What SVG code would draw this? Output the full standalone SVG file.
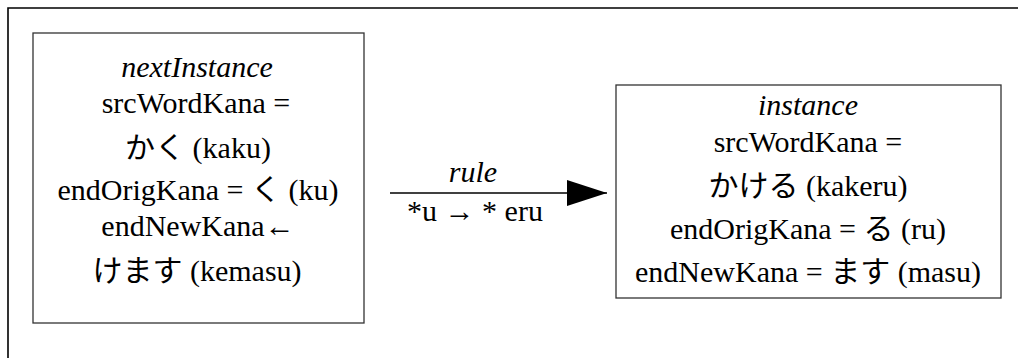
<svg xmlns="http://www.w3.org/2000/svg" width="1018" height="358" viewBox="0 0 1018 358">
  <style>
    .box { fill: #ffffff; stroke: #333333; stroke-width: 1.3; }
    .conn { stroke: #000000; stroke-width: 1.3; fill: none; }
  </style>
  <defs>
    <marker id="arrowhead" markerUnits="userSpaceOnUse" markerWidth="42" markerHeight="28" refX="40" refY="13" orient="auto">
      <polygon points="0,0 40,13 0,26" fill="#000000"/>
    </marker>
  </defs>
  <rect width="1018" height="358" fill="#ffffff"/>

  <!-- outer frame: only top and left edges fall inside the canvas -->
  <path d="M8,358 V8 H1018" fill="none" stroke="#000000" stroke-width="1.6"/>

  <g font-size="30" fill="#000000" text-anchor="middle">
    <g id="nextInstance">
      <rect class="box" x="33" y="33" width="331" height="290"/>
      <text x="197" y="77" font-style="italic" font-family="Liberation Serif, Noto Sans CJK JP, serif">nextInstance</text>
      <text x="196" y="113" font-family="Liberation Serif, Noto Sans CJK JP, serif">srcWordKana =</text>
      <text x="198" y="158" font-family="Liberation Serif, Noto Sans CJK JP, serif"><tspan font-family="Noto Sans CJK JP, sans-serif">かく</tspan> (kaku)</text>
      <text x="198" y="200" font-family="Liberation Serif, Noto Sans CJK JP, serif">endOrigKana = <tspan font-family="Noto Sans CJK JP, sans-serif">く</tspan> (ku)</text>
      <text x="198" y="236" font-family="Liberation Serif, Noto Sans CJK JP, serif">endNewKana←</text>
      <text x="197" y="281" font-family="Liberation Serif, Noto Sans CJK JP, serif"><tspan font-family="Noto Sans CJK JP, sans-serif">けます</tspan> (kemasu)</text>
    </g>

    <g id="instance">
      <rect class="box" x="616" y="85" width="385" height="213"/>
      <text x="808" y="115" font-style="italic" font-family="Liberation Serif, Noto Sans CJK JP, serif">instance</text>
      <text x="808" y="152" font-family="Liberation Serif, Noto Sans CJK JP, serif">srcWordKana =</text>
      <text x="808" y="196" font-family="Liberation Serif, Noto Sans CJK JP, serif"><tspan font-family="Noto Sans CJK JP, sans-serif">かける</tspan> (kakeru)</text>
      <text x="808" y="239" font-family="Liberation Serif, Noto Sans CJK JP, serif">endOrigKana = <tspan font-family="Noto Sans CJK JP, sans-serif">る</tspan> (ru)</text>
      <text x="808" y="282" font-family="Liberation Serif, Noto Sans CJK JP, serif">endNewKana =  <tspan font-family="Noto Sans CJK JP, sans-serif">ます</tspan> (masu)</text>
    </g>

    <g id="connectors">
      <line class="conn" x1="390" y1="193" x2="607" y2="193" marker-end="url(#arrowhead)"/>
      <text x="473" y="182" font-style="italic" font-family="Liberation Serif, Noto Sans CJK JP, serif">rule</text>
      <text x="475" y="221" font-family="Liberation Serif, Noto Sans CJK JP, serif">*u → * eru</text>
    </g>
  </g>
</svg>
